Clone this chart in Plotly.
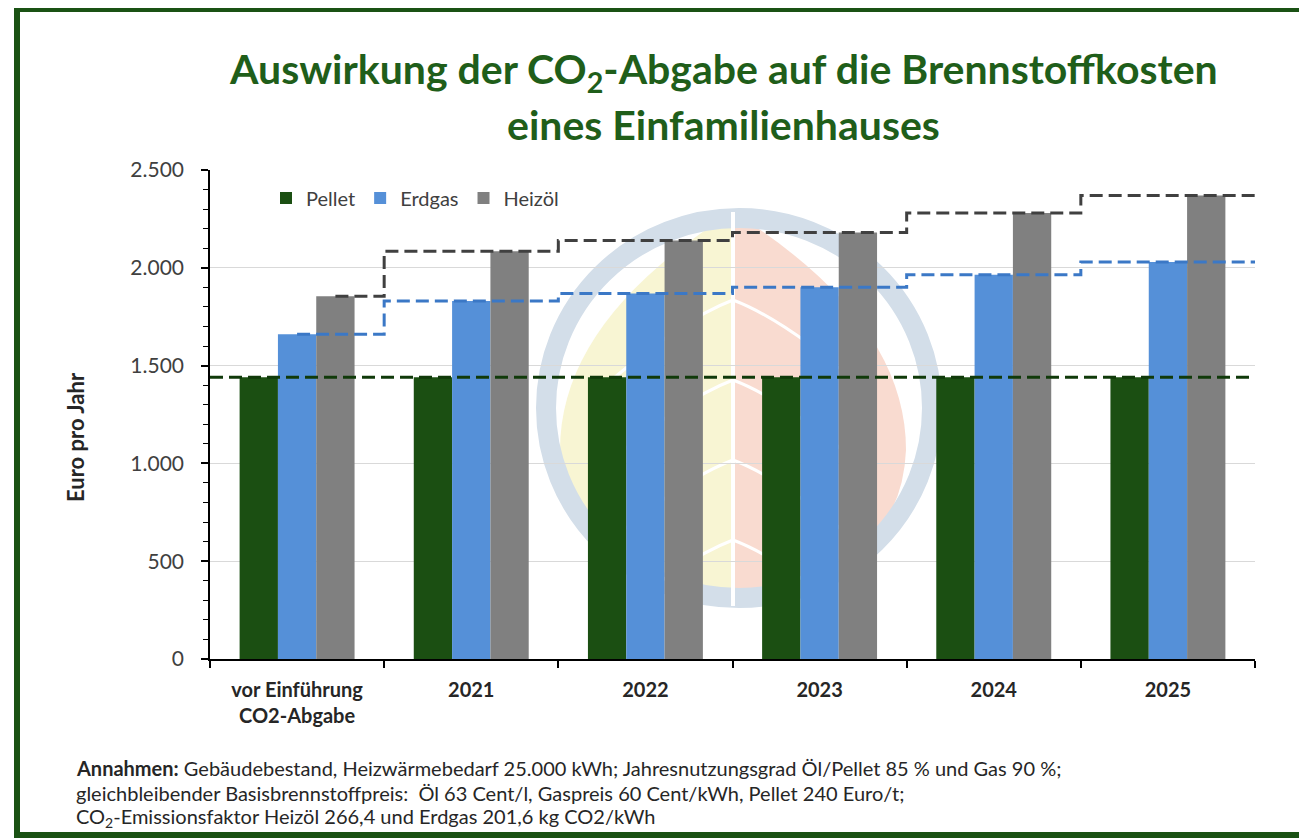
import plotly.graph_objects as go

# ---------------- data ----------------
categories = ["vor Einführung<br>CO2-Abgabe", "2021", "2022", "2023", "2024", "2025"]
pellet = [1440, 1440, 1440, 1440, 1440, 1440]
erdgas = [1660, 1830, 1868, 1900, 1965, 2030]
heizoel = [1855, 2085, 2140, 2180, 2280, 2370]
y_ticks = [0, 500, 1000, 1500, 2000, 2500]

# ---------------- style ----------------
C_PELLET = "#1b4f12"
C_GAS = "#5590d8"
C_OIL = "#808080"
C_PELLET_LINE = "#103a0a"
C_GAS_LINE = "#3b78c6"
C_OIL_LINE = "#404040"
TITLE_GREEN = "#1f5e1a"
FONT = "Lato"

BODY = 8  # default page margin of the html body
W, H = 1307 - BODY, 840 - BODY
ML, MR, MT, MB = 210 - BODY, 52, 170 - BODY, 181
PW, PH = W - ML - MR, H - MT - MB
BARGAP = 0.34
bar_w = (1 - BARGAP) / 3


def px(x):
    """page x pixel -> paper fraction"""
    return (x - BODY - ML) / PW


def py(y):
    """page y pixel -> paper fraction"""
    return (H - MB - (y - BODY)) / PH


idx = list(range(len(categories)))

fig = go.Figure()

# ---- watermark (decorative) ----
cx, cy = 739, 408
shapes = []
leaf_left = (f"M {px(733)},{py(212)} Q {px(560)},{py(320)} {px(560)},{py(450)} "
             f"Q {px(565)},{py(575)} {px(733)},{py(606)} Z")
leaf_right = (f"M {px(733)},{py(212)} Q {px(906)},{py(320)} {px(906)},{py(450)} "
              f"Q {px(901)},{py(575)} {px(733)},{py(606)} Z")
shapes.append(dict(type="path", path=leaf_left, xref="paper", yref="paper",
                   fillcolor="#f8f5d3", line=dict(width=0), layer="below"))
shapes.append(dict(type="path", path=leaf_right, xref="paper", yref="paper",
                   fillcolor="#f9dbd0", line=dict(width=0), layer="below"))
shapes.append(dict(type="circle", xref="paper", yref="paper",
                   x0=px(cx - 193), x1=px(cx + 193), y0=py(cy + 190), y1=py(cy - 190),
                   line=dict(color="#d3dee9", width=20), layer="below"))
shapes.append(dict(type="line", xref="paper", yref="paper",
                   x0=px(733), x1=px(733), y0=py(212), y1=py(606),
                   line=dict(color="white", width=4), layer="below"))
for k in range(4):
    yy = 300 + k * 80
    shapes.append(dict(type="path", xref="paper", yref="paper",
                       path=f"M {px(600)},{py(yy + 90)} Q {px(680)},{py(yy + 20)} {px(733)},{py(yy)} "
                            f"Q {px(786)},{py(yy + 20)} {px(866)},{py(yy + 90)}",
                       line=dict(color="white", width=3), layer="below"))

# ---- outer frame ----
shapes.append(dict(type="rect", xref="paper", yref="paper",
                   x0=px(17), x1=px(1330), y0=py(835), y1=py(9),
                   line=dict(color="#1a5214", width=6), fillcolor="rgba(0,0,0,0)"))

# ---- bars ----
fig.add_trace(go.Bar(x=idx, y=pellet, name="Pellet", marker_color=C_PELLET,
                     marker_line_width=0))
fig.add_trace(go.Bar(x=idx, y=erdgas, name="Erdgas", marker_color=C_GAS,
                     marker_line_width=0))
fig.add_trace(go.Bar(x=idx, y=heizoel, name="Heizöl", marker_color=C_OIL,
                     marker_line_width=0))

# ---- dashed step lines ----
steps = [i + 0.5 for i in idx]


def step_trace(vals, start, color):
    return go.Scatter(x=[start] + steps, y=vals + [vals[-1]], mode="lines",
                      line=dict(color=color, width=3, dash="13px,6px", shape="hv"),
                      showlegend=False, hoverinfo="skip")


fig.add_trace(step_trace(pellet, idx[0] - 0.5, C_PELLET_LINE))
fig.add_trace(step_trace(erdgas, idx[0], C_GAS_LINE))
fig.add_trace(step_trace(heizoel, idx[0] + bar_w, C_OIL_LINE))

NOTE = dict(family=FONT, size=20, color="#262626")
annotations = [
    dict(text="Auswirkung der CO<sub>2</sub>-Abgabe auf die Brennstoffkosten",
         xref="paper", yref="paper", x=px(723), y=py(71), xanchor="center", yanchor="middle",
         showarrow=False, font=dict(family=FONT, size=41, color=TITLE_GREEN, weight="bold")),
    dict(text="eines Einfamilienhauses",
         xref="paper", yref="paper", x=px(723), y=py(124), xanchor="center", yanchor="middle",
         showarrow=False, font=dict(family=FONT, size=41, color=TITLE_GREEN, weight="bold")),
    dict(text="<b>Euro pro Jahr</b>", xref="paper", yref="paper", x=px(75), y=py(437),
         xanchor="center", yanchor="middle", textangle=-90, showarrow=False,
         font=dict(family=FONT, size=22, color="#262626")),
    dict(text="<b>Annahmen:</b> Gebäudebestand, Heizwärmebedarf 25.000 kWh; Jahresnutzungsgrad Öl/Pellet 85 % und Gas 90 %;",
         xref="paper", yref="paper", x=px(74), y=py(768), xanchor="left", yanchor="middle",
         showarrow=False, font=NOTE),
    dict(text="gleichbleibender Basisbrennstoffpreis:  Öl 63 Cent/l, Gaspreis 60 Cent/kWh, Pellet 240 Euro/t;",
         xref="paper", yref="paper", x=px(74), y=py(793), xanchor="left", yanchor="middle",
         showarrow=False, font=NOTE),
    dict(text="CO<sub>2</sub>-Emissionsfaktor Heizöl 266,4 und Erdgas 201,6 kg CO2/kWh",
         xref="paper", yref="paper", x=px(74), y=py(817), xanchor="left", yanchor="middle",
         showarrow=False, font=NOTE),
]

fig.update_layout(
    width=W, height=H,
    margin=dict(l=ML, r=MR, t=MT, b=MB),
    paper_bgcolor="white", plot_bgcolor="white",
    barmode="group", bargap=BARGAP, bargroupgap=0,
    separators=",.",
    font=dict(family=FONT, color="#404040"),
    showlegend=True,
    legend=dict(orientation="h", x=px(266), y=py(198), xanchor="left", yanchor="middle",
                font=dict(family=FONT, size=20, color="#404040"), bgcolor="rgba(0,0,0,0)",
                itemwidth=30, traceorder="normal"),
    shapes=shapes,
    annotations=annotations,
)

fig.update_xaxes(
    range=[idx[0] - 0.5, idx[-1] + 0.5],
    tickvals=idx, ticktext=[f"<b>{c}</b>" for c in categories],
    ticks="", showgrid=False, zeroline=False,
    showline=True, linecolor="#000000", linewidth=1.5,
    tickfont=dict(family=FONT, size=20, color="#262626"),
    ticklabelstandoff=12,
    minor=dict(ticks="outside", tick0=0.5, dtick=1, ticklen=7, tickcolor="#000000", tickwidth=1.5),
)
fig.update_yaxes(
    range=[0, 2500], tickvals=y_ticks, tickformat=",d",
    showgrid=True, gridcolor="#d9d9d9", gridwidth=1, zeroline=False,
    showline=True, linecolor="#000000", linewidth=1.5,
    ticks="outside", ticklen=7, tickcolor="#000000", tickwidth=1.5,
    minor=dict(ticks="outside", dtick=100, ticklen=5, tickcolor="#000000", tickwidth=1.2,
               showgrid=False),
    tickfont=dict(family=FONT, size=21, color="#404040"),
    ticklabelstandoff=13,
)

fig.write_html("out.html")
